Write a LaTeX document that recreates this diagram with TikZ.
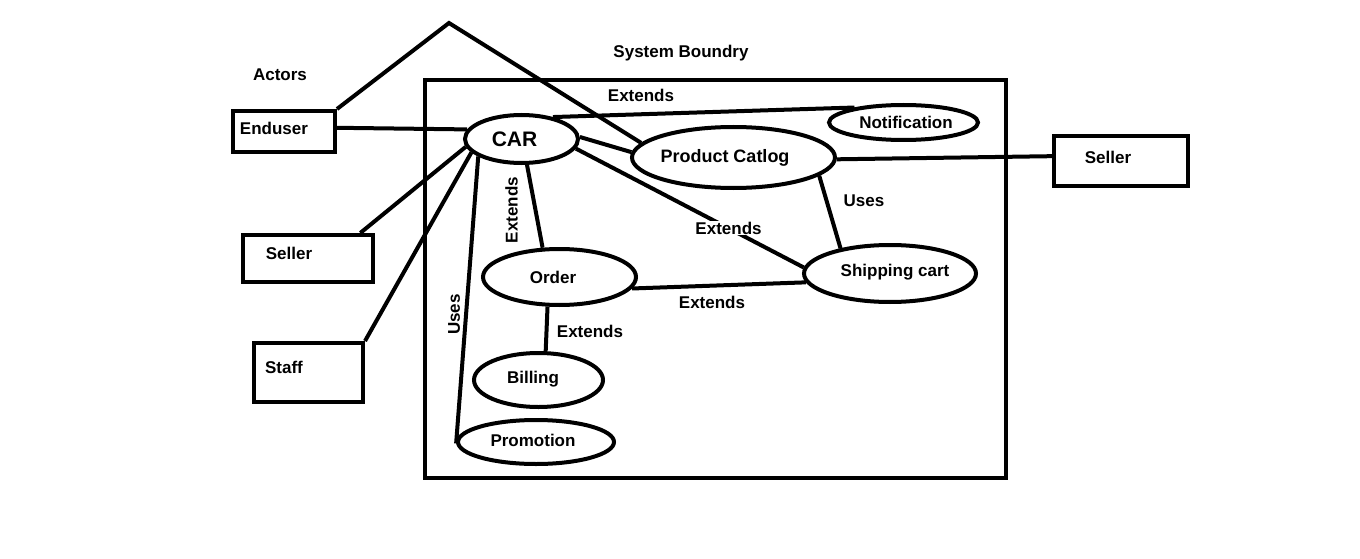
\documentclass[tikz,border=0pt]{standalone}
\usepackage{fontspec}
\setmainfont{Liberation Sans}
\usetikzlibrary{shapes.geometric}
\begin{document}
\begin{tikzpicture}[x=1pt,y=-1pt,
  ln/.style={line width=4pt},
  txt/.style={font=\fontsize{17}{20}\selectfont\bfseries},
  ell/.style={ellipse,draw,line width=4pt,inner sep=0pt,txt},
  actor/.style={rectangle,draw,line width=4pt,inner sep=0pt},
  lbl/.style={txt,inner sep=1pt},
]
\useasboundingbox (0,0) rectangle (1360,559);
\fill[white] (0,0) rectangle (1360,559);
% system boundary
\node[actor,minimum width=581pt,minimum height=398pt] (system) at (715.5,279) {};
\node[lbl] (systitle) at (681,53) {System Boundry};
\node[lbl] (actorstitle) at (280,75) {Actors};
% actors
\node[actor,minimum width=102pt,minimum height=41pt,label={[lbl,xshift=-10pt,yshift=3.5pt]center:Enduser}] (enduser) at (284,131.5) {};
\node[actor,minimum width=130pt,minimum height=47pt,label={[lbl,xshift=-19pt,yshift=5.5pt]center:Seller}] (sellerL) at (308,258.5) {};
\node[actor,minimum width=109pt,minimum height=59pt,label={[lbl,xshift=-24.5pt,yshift=5.5pt]center:Staff}] (staff) at (308.5,372.5) {};
\node[actor,minimum width=134pt,minimum height=50pt,label={[lbl,xshift=-13pt,yshift=4pt]center:Seller}] (sellerR) at (1121,161) {};
% use cases
\node[ell,minimum width=113pt,minimum height=48pt,label={[lbl,font=\fontsize{21}{24}\selectfont\bfseries,xshift=-7pt]center:CAR}] (car) at (521.5,139) {};
\node[ell,minimum width=149pt,minimum height=35pt,label={[lbl,xshift=2.5pt]center:Notification}] (notif) at (903.5,122.5) {};
\node[ell,minimum width=203pt,minimum height=61pt,label={[lbl,font=\fontsize{18}{21}\selectfont\bfseries,xshift=-8.5pt]center:Product Catlog}] (product) at (733.5,157.5) {};
\node[ell,minimum width=172pt,minimum height=57pt,label={[lbl,xshift=5pt,yshift=1.5pt]center:Shipping cart}] (ship) at (890,273.5) {};
\node[ell,minimum width=153pt,minimum height=56pt,label={[lbl,xshift=-6.5pt]center:Order}] (order) at (559.5,277) {};
\node[ell,minimum width=129pt,minimum height=54pt,label={[lbl,xshift=-5.5pt,yshift=1pt]center:Billing}] (billing) at (538.5,380) {};
\node[ell,minimum width=156pt,minimum height=44pt,label={[lbl,xshift=-3pt,yshift=2pt]center:Promotion}] (promo) at (536,442) {};
\coordinate (apex) at (449,23);
% connectors
\draw[ln] (enduser.north east) -- (apex) -- (product.171);
\draw[ln] (enduser.4) -- (car.170);
\draw[ln] (car.35) -- (notif.163);
\draw[ln] (car.2) -- (product.177);
\draw[ln] (car.-10) -- node[lbl,fill=white,pos=0.67] (lblCS) {Extends} (ship.176);
\draw[ln] (car.-78) -- (order.120);
\draw[ln] (car.202) -- (promo.181);
\draw[ln] (car.188) -- (sellerL.26);
\draw[ln] (car.195) -- (staff.north east);
\draw[ln] (product.-1) -- (sellerR.176);
\draw[ln] (product.-12) -- (ship.153);
\draw[ln] (order.-9) -- (ship.186);
\draw[ln] (order.-112) -- (billing.76);
% labels
\node[lbl] (lblCN) at (641,95) {Extends};
\node[lbl,rotate=90] (lblCO) at (511.5,210) {Extends};
\node[lbl,rotate=90] (lblCP) at (454,314.5) {Uses};
\node[lbl] (lblPS) at (864,201) {Uses};
\node[lbl] (lblOS) at (712,302) {Extends};
\node[lbl] (lblOB) at (590,331) {Extends};
\end{tikzpicture}
\end{document}
